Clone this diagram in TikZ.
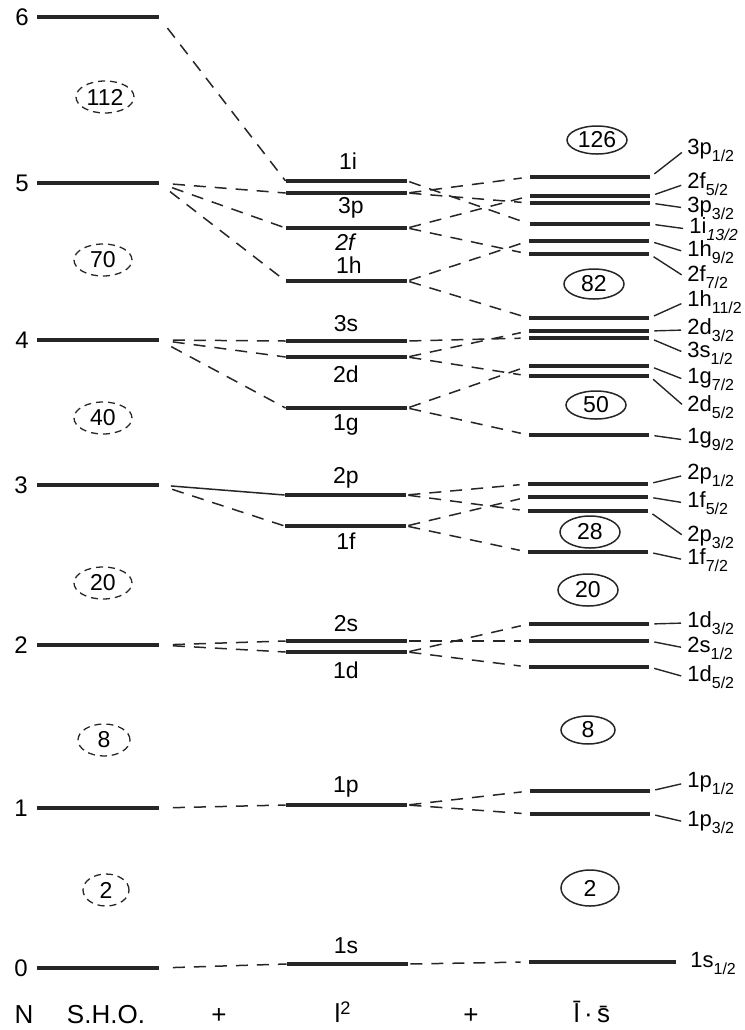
\documentclass[tikz,border=0pt]{standalone}
\usepackage{fontspec}
\setmainfont{Liberation Sans}
\usetikzlibrary{shapes.geometric}

\newcommand{\lowidx}[1]{\raisebox{-3.5pt}{\fontsize{8}{9}\selectfont #1}}

\begin{document}
\begin{tikzpicture}[x=0.5pt, y=-0.5pt, font=\fontsize{11.5}{13}\selectfont]
  \useasboundingbox (0,0) rectangle (745,1030);  % Seitengroesse wie Vorlage.
  \tikzstyle{lev}=[fill=black!85, minimum height=1.6pt, inner sep=0pt]
  \tikzstyle{sho}=[lev, minimum width=61pt]
  \tikzstyle{orb}=[lev, minimum width=60.5pt]
  \tikzstyle{fine}=[lev, minimum width=60pt]
  \tikzstyle{conn}=[draw=black!85, line width=0.75pt, dash pattern=on 6pt off 4.5pt]
  \tikzstyle{lift}=[conn, shorten <=7pt]
  \tikzstyle{spin}=[conn, shorten <=1pt, shorten >=4pt]
  \tikzstyle{tick}=[draw=black!85, line width=0.7pt, shorten <=2.5pt, shorten >=2pt]
  \tikzstyle{rlab}=[anchor=west, inner sep=1pt, font=\fontsize{11}{12}\selectfont]
  \tikzstyle{magic}=[draw=black!85, ellipse, dash pattern=on 3.5pt off 2.5pt, line width=0.65pt, minimum width=29pt, minimum height=16pt, inner sep=0pt, font=\fontsize{11.5}{13}\selectfont]
  \tikzstyle{shell}=[draw=black!85, ellipse, line width=0.75pt, minimum width=30pt, minimum height=14pt, inner sep=0pt, font=\fontsize{11.5}{13}\selectfont]
  \tikzstyle{axis}=[font=\fontsize{13}{15}\selectfont]

  % S.H.O.
  \node[sho] (s6) at (97.5,  17) {};
  \node[sho] (s5) at (97.5, 183) {};
  \node[sho] (s4) at (97.5, 340) {};
  \node[sho] (s3) at (97.5, 485) {};
  \node[sho] (s2) at (97.5, 645) {};
  \node[sho] (s1) at (97.5, 808) {};
  \node[sho] (s0) at (97.5, 968) {};

  \node[font=\fontsize{12}{14}\selectfont] (n6) at (22,  17) {6};
  \node[font=\fontsize{12}{14}\selectfont] (n5) at (22, 183) {5};
  \node[font=\fontsize{12}{14}\selectfont] (n4) at (22, 340) {4};
  \node[font=\fontsize{12}{14}\selectfont] (n3) at (21, 485) {3};
  \node[font=\fontsize{12}{14}\selectfont] (n2) at (21, 645) {2};
  \node[font=\fontsize{12}{14}\selectfont] (n1) at (21, 808) {1};
  \node[font=\fontsize{12}{14}\selectfont] (n0) at (21, 968) {0};

  \node[magic] (m112) at (105,  97) {112};
  \node[magic] (m70)  at (103, 260) {70};
  \node[magic] (m40)  at (103, 418) {40};
  \node[magic] (m20)  at (103, 583) {20};
  \node[magic, minimum width=26pt] (m8) at (104, 740) {8};
  \node[magic, minimum width=23pt] (m2) at (106, 890) {2};

  % l^2
  \node[orb] (l1i) at (346.5, 181) {};
  \node[orb] (l3p) at (346.5, 193) {};
  \node[orb] (l2f) at (346.5, 228) {};
  \node[orb] (l1h) at (346.5, 281) {};
  \node[orb] (l3s) at (346.5, 341) {};
  \node[orb] (l2d) at (346.5, 357) {};
  \node[orb] (l1g) at (346.5, 408) {};
  \node[orb] (l2p) at (345.5, 495) {};
  \node[orb] (l1f) at (345.5, 526) {};
  \node[orb] (l2s) at (346.5, 641) {};
  \node[orb] (l1d) at (346.5, 652) {};
  \node[orb] (l1p) at (346.5, 805) {};
  \node[orb] (l1s) at (347.5, 964) {};

  \node (o1i) at (348, 161) {1i};
  \node (o3p) at (351, 208) {3p};
  \node (o2f) at (346, 242) {\textit{2f}};
  \node (o1h) at (349, 265) {1h};
  \node (o3s) at (346, 324) {3s};
  \node (o2d) at (346, 374) {2d};
  \node (o1g) at (346, 425) {1g};
  \node (o2p) at (346, 478) {2p};
  \node (o1f) at (346, 541) {1f};
  \node (o2s) at (346, 624) {2s};
  \node (o1d) at (346, 670) {1d};
  \node (o1p) at (346, 787) {1p};
  \node (o1s) at (346, 946) {1s};

  % l.s
  \node[fine] (j3p1)  at (590, 177) {};
  \node[fine] (j2f5)  at (590, 196) {};
  \node[fine] (j3p3)  at (590, 203) {};
  \node[fine] (j1i13) at (590, 224) {};
  \node[fine] (j1h9)  at (589, 241) {};
  \node[fine] (j2f7)  at (589, 254) {};
  \node[fine] (j1h11) at (589, 318) {};
  \node[fine] (j2d3)  at (589, 331) {};
  \node[fine] (j3s1)  at (589, 338) {};
  \node[fine] (j1g7)  at (589, 366) {};
  \node[fine] (j2d5)  at (589, 376) {};
  \node[fine] (j1g9)  at (589, 435) {};
  \node[fine] (j2p1)  at (588, 484) {};
  \node[fine] (j1f5)  at (588, 497) {};
  \node[fine] (j2p3)  at (588, 511) {};
  \node[fine] (j1f7)  at (588, 552) {};
  \node[fine] (j1d3)  at (589, 624) {};
  \node[fine] (j2s1)  at (589, 641) {};
  \node[fine] (j1d5)  at (589, 667) {};
  \node[fine] (j1p1)  at (590, 791) {};
  \node[fine] (j1p3)  at (590, 814) {};
  \node[lev, minimum width=73.5pt] (j1s1) at (602.5, 962) {};

  \node[shell] (c126) at (597, 140) {126};
  \node[shell, minimum height=15pt] (c82) at (594, 284) {82};
  \node[shell] (c50)  at (596, 405) {50};
  \node[shell, minimum height=16pt] (c28) at (590, 532) {28};
  \node[shell, minimum height=16pt] (c20) at (588, 590) {20};
  \node[shell, minimum width=27pt] (c8) at (588, 730) {8};
  \node[shell, minimum width=29pt, minimum height=18pt] (c2) at (590, 888) {2};

  \node[rlab] (t3p1)  at (685, 150) {3p\lowidx{1/2}};
  \node[rlab] (t2f5)  at (685, 184) {2f\lowidx{5/2}};
  \node[rlab] (t3p3)  at (685, 208) {3p\lowidx{3/2}};
  \node[rlab] (t1i13) at (687, 229) {1i\lowidx{\itshape 13/2}};
  \node[rlab] (t1h9)  at (685, 252) {1h\lowidx{9/2}};
  \node[rlab] (t2f7)  at (685, 277) {2f\lowidx{7/2}};
  \node[rlab] (t1h11) at (685, 302) {1h\lowidx{11/2}};
  \node[rlab] (t2d3)  at (685, 330) {2d\lowidx{3/2}};
  \node[rlab] (t3s1)  at (685, 353) {3s\lowidx{1/2}};
  \node[rlab] (t1g7)  at (685, 380) {1g\lowidx{7/2}};
  \node[rlab] (t2d5)  at (685, 407) {2d\lowidx{5/2}};
  \node[rlab] (t1g9)  at (685, 440) {1g\lowidx{9/2}};
  \node[rlab] (t2p1)  at (685, 475) {2p\lowidx{1/2}};
  \node[rlab] (t1f5)  at (685, 503) {1f\lowidx{5/2}};
  \node[rlab] (t2p3)  at (685, 537) {2p\lowidx{3/2}};
  \node[rlab] (t1f7)  at (685, 560) {1f\lowidx{7/2}};
  \node[rlab] (t1d3)  at (685, 623) {1d\lowidx{3/2}};
  \node[rlab] (t2s1)  at (685, 648) {2s\lowidx{1/2}};
  \node[rlab] (t1d5)  at (685, 677) {1d\lowidx{5/2}};
  \node[rlab] (t1p1)  at (685, 783) {1p\lowidx{1/2}};
  \node[rlab] (t1p3)  at (685, 822) {1p\lowidx{3/2}};
  \node[rlab] (t1s1)  at (688, 963) {1s\lowidx{1/2}};

  % Achse unten
  \node[axis] (bN)   at (24,  1015) {N};
  \node[axis] (bsho) at (106, 1015) {S.H.O.};
  \node[axis] (bp1)  at (219, 1016) {+};
  \node[axis] (bl2)  at (343, 1012) {l\textsuperscript{2}};
  \node[axis] (bp2)  at (471, 1016) {+};
  \node[axis] (bls)  at (592, 1012) {\={l}\,\textperiodcentered\,\={s}};

  % S.H.O. -> l^2
  \draw[lift] (s6.east) -- (l1i.west);
  \draw[lift] (s5.east) -- (l3p.west);
  \draw[lift] (s5.east) -- (l2f.west);
  \draw[lift] (s5.east) -- (l1h.west);
  \draw[lift] (s4.east) -- (l3s.west);
  \draw[lift] (s4.east) -- (l2d.west);
  \draw[lift] (s4.east) -- (l1g.west);
  \draw[draw=black!85, line width=0.75pt, shorten <=6pt] (s3.east) -- (l2p.west);
  \draw[lift] (s3.east) -- (l1f.west);
  \draw[lift] (s2.east) -- (l2s.west);
  \draw[lift] (s2.east) -- (l1d.west);
  \draw[lift] (s1.east) -- (l1p.west);
  \draw[lift] (s0.east) -- (l1s.west);

  % l^2 -> l.s
  \draw[spin] (l1i.east) -- (j1i13.west);
  \draw[spin] (l3p.east) -- (j3p1.west);
  \draw[spin] (l3p.east) -- (j3p3.west);
  \draw[spin] (l2f.east) -- (j2f5.west);
  \draw[spin] (l2f.east) -- (j2f7.west);
  \draw[spin] (l1h.east) -- (j1h9.west);
  \draw[spin] (l1h.east) -- (j1h11.west);
  \draw[spin] (l3s.east) -- (j3s1.west);
  \draw[spin] (l2d.east) -- (j2d3.west);
  \draw[spin] (l2d.east) -- (j2d5.west);
  \draw[spin] (l1g.east) -- (j1g7.west);
  \draw[spin] (l1g.east) -- (j1g9.west);
  \draw[spin] (l2p.east) -- (j2p1.west);
  \draw[spin] (l2p.east) -- (j2p3.west);
  \draw[spin] (l1f.east) -- (j1f5.west);
  \draw[spin] (l1f.east) -- (j1f7.west);
  \draw[spin] (l2s.east) -- (j2s1.west);
  \draw[spin] (l1d.east) -- (j1d3.west);
  \draw[spin] (l1d.east) -- (j1d5.west);
  \draw[spin] (l1p.east) -- (j1p1.west);
  \draw[spin] (l1p.east) -- (j1p3.west);
  \draw[spin] (l1s.east) -- (j1s1.west);

  % Striche zu den Namen
  \draw[tick] (j3p1.east)  -- (t3p1.west);
  \draw[tick] (j2f5.east)  -- (t2f5.west);
  \draw[tick] (j3p3.east)  -- (t3p3.west);
  \draw[tick] (j1i13.east) -- (t1i13.west);
  \draw[tick] (j1h9.east)  -- (t1h9.west);
  \draw[tick] (j2f7.east)  -- (t2f7.west);
  \draw[tick] (j1h11.east) -- (t1h11.west);
  \draw[tick] (j2d3.east)  -- (t2d3.west);
  \draw[tick] (j3s1.east)  -- (t3s1.west);
  \draw[tick] (j1g7.east)  -- (t1g7.west);
  \draw[tick] (j2d5.east)  -- (t2d5.west);
  \draw[tick] (j1g9.east)  -- (t1g9.west);
  \draw[tick] (j2p1.east)  -- (t2p1.west);
  \draw[tick] (j1f5.east)  -- (t1f5.west);
  \draw[tick] (j2p3.east)  -- (t2p3.west);
  \draw[tick] (j1f7.east)  -- (t1f7.west);
  \draw[tick] (j1d3.east)  -- (t1d3.west);
  \draw[tick] (j2s1.east)  -- (t2s1.west);
  \draw[tick] (j1d5.east)  -- (t1d5.west);
  \draw[tick] (j1p1.east)  -- (t1p1.west);
  \draw[tick] (j1p3.east)  -- (t1p3.west);
\end{tikzpicture}
\end{document}
